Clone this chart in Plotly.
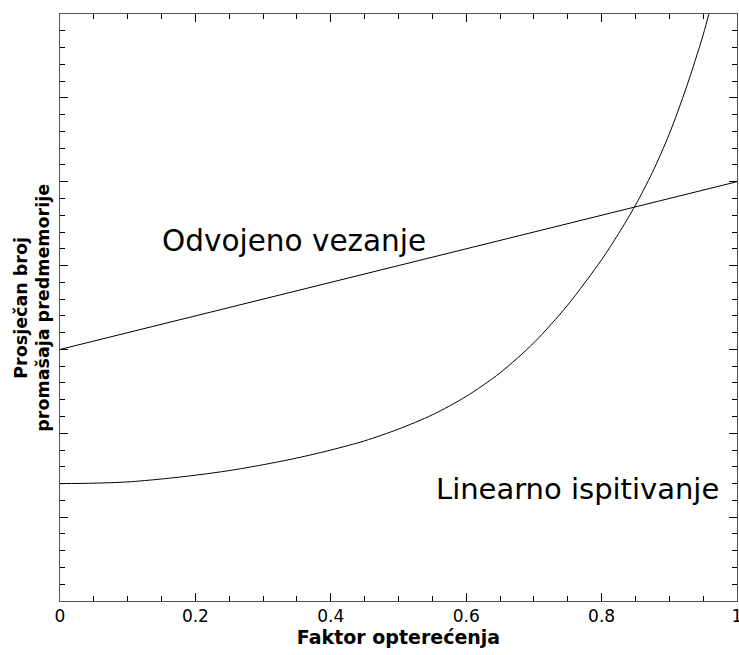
import plotly.graph_objects as go

# Data
load_factor = [0.0, 0.05, 0.1, 0.15, 0.2, 0.25, 0.3, 0.35, 0.4, 0.45, 0.5, 0.55, 0.6,
               0.65, 0.7, 0.75, 0.8, 0.825, 0.85, 0.875, 0.9, 0.925, 0.95, 0.96]
linear_probing = [1.40, 1.405, 1.42, 1.455, 1.50, 1.555, 1.625, 1.705, 1.80, 1.91, 2.05, 2.22, 2.44,
                  2.72, 3.08, 3.53, 4.07, 4.38, 4.72, 5.11, 5.57, 6.12, 6.75, 7.05]
chain_x = [0.0, 1.0]
separate_chaining = [3.0, 5.0]

x_ticks = [0, 0.2, 0.4, 0.6, 0.8, 1]
x_tick_labels = ["0", "0.2", "0.4", "0.6", "0.8", "1"]

label_chain = "Odvojeno vezanje"
label_probe = "Linearno ispitivanje"
x_title = "Faktor opterećenja"
y_title_lines = ["Prosječan broj", "promašaja predmemorije"]

FONT = "DejaVu Sans"

fig = go.Figure()
fig.add_trace(go.Scatter(x=chain_x, y=separate_chaining, mode="lines",
                         line=dict(color="black", width=1), showlegend=False))
fig.add_trace(go.Scatter(x=load_factor, y=linear_probing, mode="lines",
                         line=dict(color="black", width=1, shape="spline", smoothing=0.8),
                         showlegend=False))

fig.add_annotation(x=0.345, y=4.29, xref="x", yref="y", text=label_chain, showarrow=False,
                   font=dict(family=FONT, size=29.5, color="black"))
fig.add_annotation(x=0.764, y=1.335, xref="x", yref="y", text=label_probe, showarrow=False,
                   font=dict(family=FONT, size=29, color="black"))
fig.add_annotation(x=-0.041, y=0.5, xref="paper", yref="paper",
                   text="<br>".join("<b>" + s + "</b>" for s in y_title_lines),
                   showarrow=False, textangle=-90, xanchor="center", yanchor="middle",
                   font=dict(family=FONT, size=17.5, color="black"))

axis_common = dict(showline=True, linecolor="#555555", linewidth=1, mirror="ticks",
                   ticks="inside", tickcolor="black", tickwidth=1, ticklen=8,
                   showgrid=False, zeroline=False)

fig.update_xaxes(range=[0, 1], tickvals=x_ticks, ticktext=x_tick_labels,
                 tickfont=dict(family=FONT, size=17, color="black"),
                 ticklabeloverflow="allow",
                 title=dict(text="<b>" + x_title + "</b>",
                            font=dict(family=FONT, size=19, color="black"), standoff=3),
                 minor=dict(dtick=0.05, ticks="inside", ticklen=5, tickcolor="black", tickwidth=1),
                 **axis_common)
fig.update_yaxes(range=[0, 7], dtick=1, showticklabels=False,
                 minor=dict(dtick=0.2, ticks="inside", ticklen=5, tickcolor="black", tickwidth=1),
                 **axis_common)

fig.update_layout(width=742, height=655, margin=dict(l=60, r=0, t=14, b=54),
                  plot_bgcolor="white", paper_bgcolor="white", autosize=False)

fig.write_html("out.html", config={"displayModeBar": False},
               post_script="document.body.style.margin='0';document.body.style.overflow='hidden';document.documentElement.style.overflow='hidden';")
